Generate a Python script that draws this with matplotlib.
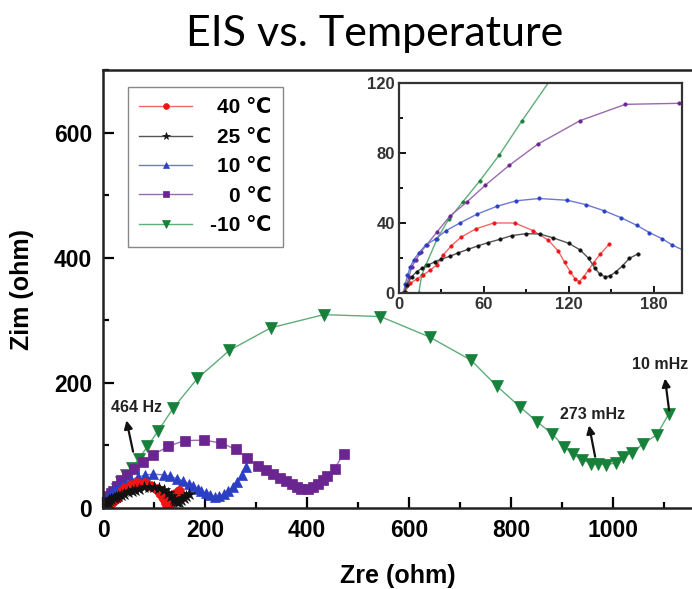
import matplotlib
matplotlib.use("Agg")
import matplotlib.pyplot as plt
from matplotlib.ticker import MultipleLocator

# ---------------- data ----------------
legend_labels = ["40 ℃", "25 ℃", "10 ℃", "0 ℃", "-10 ℃"]

zre_40 = [4, 8, 12.5, 17, 22, 26.6, 31, 37, 44, 54.4, 67, 82, 95, 105.5, 112.5, 117,
          121, 124.5, 127.5, 130.5, 134, 137.5, 142, 148.5]
zim_40 = [0.5, 5.5, 8, 10.3, 13, 16, 21.5, 27, 32, 36.7, 40, 40, 35.5, 30.2, 24, 17.6,
          12.2, 8, 6.5, 9.3, 13.2, 17.3, 22, 27.8]

zre_25 = [4, 5.4, 9, 12.5, 16, 20.7, 25.4, 30, 36, 42, 49, 56, 63, 71.4, 79.6, 89.7,
          99.6, 109, 120, 128, 134, 138.5, 142, 145.6, 149, 153.4, 158, 162.8, 168.7]
zim_25 = [0.7, 4.6, 9.3, 12.2, 14, 16, 17.9, 19.4, 21, 23, 25, 27, 28.8, 30.7, 32.8, 33.9,
          33.7, 31.5, 28.4, 24.6, 19.8, 14.1, 10.7, 9.3, 9.7, 12.2, 15.6, 19.8, 22.3]

zre_10 = [3, 4.5, 6, 8, 10.5, 14, 19, 26, 33, 43, 55, 69, 83, 99, 119, 132, 145, 157,
          168, 177, 186, 193, 202, 210, 220, 228, 237, 246, 254, 262, 272, 281]
zim_10 = [0, 5, 10, 15, 19, 23, 27.5, 31, 35.5, 40, 45, 49.5, 52.7, 54, 53, 50.5, 47, 43,
          38.7, 34.5, 31, 27.5, 24, 20.5, 18, 19, 22, 27, 34, 42, 52.6, 65]

zre_0 = [3, 5, 7, 9, 12, 15.5, 19.5, 27, 36, 48, 61, 78, 98, 128, 160, 198, 231, 261,
         283, 303, 319, 334, 347, 358, 370, 380, 389, 401, 412, 422, 432, 440, 454, 472]
zim_0 = [0, 4, 9, 15, 19, 23.5, 27.5, 35, 44, 52, 61.6, 73, 85, 98.5, 107.8, 108.4, 104,
         93.6, 80, 67, 60.6, 54, 48, 43, 38, 34, 31, 30, 33, 38, 44.6, 51.5, 63, 87]

zre_m10 = [14, 16, 19, 27, 35, 45, 57, 71, 87, 108, 138, 185, 248, 329, 433, 544, 641,
           722, 772, 817, 851, 880, 904, 922, 940, 957, 971, 986, 1005, 1019, 1038,
           1059, 1086, 1109]
zim_m10 = [0, 10, 16, 31, 42, 52, 64, 79, 98.5, 123, 160, 207, 252, 288, 309, 306, 273,
           236, 195, 162, 138, 119, 98, 86, 77, 71, 71, 69, 72, 82, 88, 103, 117, 150]

freq_labels = ["464 Hz", "273 mHz", "10 mHz"]
freq_text_xy = [(66, 160), (959, 150), (1092, 230)]
freq_arrow_head = [(46, 140), (953, 132), (1102, 207)]
freq_arrow_tail = [(59, 90), (965, 82), (1110, 156)]

# ---------------- styling ----------------
FONT = ["Liberation Sans", "DejaVu Sans"]
plt.rcParams["font.family"] = FONT
plt.rcParams["font.weight"] = "bold"

# drawing order: -10, 0, 10, 40, 25 (label index into legend_labels last)
series = [
    (zre_m10, zim_m10, "v", "#17803a", "#5fae7a", 8.5, 4),
    (zre_0, zim_0, "s", "#6b2590", "#9a6aae", 7.5, 3),
    (zre_10, zim_10, "^", "#2b3fc4", "#6c7ad4", 7.5, 2),
    (zre_40, zim_40, "o", "#ee1515", "#f06a6a", 7, 0),
    (zre_25, zim_25, "*", "#111111", "#555555", 9, 1),
]

fig = plt.figure(figsize=(6.92, 5.89), dpi=100)
fig.patch.set_facecolor("white")

ax = fig.add_axes([103 / 692, 1 - 508 / 589, 589 / 692, 438 / 589])
handles = {}
for (x, y, m, mc, lc, ms, li) in series:
    h, = ax.plot(x, y, color=lc, lw=1.0, marker=m, ms=ms, mfc=mc, mec=mc, mew=0.5)
    handles[li] = h

ax.set_xlim(0, 589 / 0.51)
ax.set_ylim(0, 700)
ax.xaxis.set_major_locator(MultipleLocator(200))
ax.xaxis.set_minor_locator(MultipleLocator(100))
ax.yaxis.set_major_locator(MultipleLocator(200))
ax.yaxis.set_minor_locator(MultipleLocator(100))
ax.tick_params(which="both", direction="in", width=1.6, labelsize=16.5, top=False, right=False)
ax.tick_params(which="major", length=8, pad=8)
ax.tick_params(which="minor", length=4.5)
for lab in ax.get_xticklabels() + ax.get_yticklabels():
    lab.set_fontweight("bold")
for s in ["left", "bottom", "top"]:
    ax.spines[s].set_linewidth(1.8)
    ax.spines[s].set_color("#222222")
ax.spines["right"].set_visible(False)

ax.set_xlabel("Zre (ohm)", fontsize=18, fontweight="bold", labelpad=16)
ax.set_ylabel("Zim (ohm)", fontsize=18, fontweight="bold", labelpad=14)

for lab, txy, head, tail in zip(freq_labels, freq_text_xy, freq_arrow_head, freq_arrow_tail):
    ax.text(txy[0], txy[1], lab, fontsize=11.5, fontweight="bold", ha="center",
            va="center", color="#222222")
    ax.annotate("", xy=head, xytext=tail,
                arrowprops=dict(arrowstyle="-|>", color="#111111", lw=1.6,
                                mutation_scale=12, shrinkA=0, shrinkB=0))

leg = ax.legend([handles[i] for i in range(5)], legend_labels,
                loc="upper left", bbox_to_anchor=(25 / 589, 1 - 17 / 438),
                prop=dict(family=FONT, weight="bold", size=15),
                frameon=True, fancybox=False, edgecolor="#888888", framealpha=1,
                markerscale=0.6, handlelength=2.5, handletextpad=0.9,
                labelspacing=0.5, borderpad=0.55, borderaxespad=0)
leg.get_frame().set_linewidth(1.0)

# right-align the legend labels
fig.canvas.draw()
renderer = fig.canvas.get_renderer()
texts = leg.get_texts()
widths = [t.get_window_extent(renderer).width for t in texts]
wmax = max(widths)
for t, w in zip(texts, widths):
    t.set_position((wmax - w, 0))

# ---------------- inset ----------------
axin = fig.add_axes([399 / 692, 1 - 293 / 589, 283 / 692, 210 / 589])
for (x, y, m, mc, lc, ms, li) in series:
    axin.plot(x, y, color=lc, lw=1.0, marker="o", ms=2.6, mfc=mc, mec=mc, mew=0.3)
axin.set_xlim(0, 200)
axin.set_ylim(0, 120)
axin.xaxis.set_major_locator(MultipleLocator(60))
axin.xaxis.set_minor_locator(MultipleLocator(30))
axin.yaxis.set_major_locator(MultipleLocator(40))
axin.yaxis.set_minor_locator(MultipleLocator(20))
axin.tick_params(which="both", direction="in", width=1.3, labelsize=12, pad=3)
axin.tick_params(which="major", length=5)
axin.tick_params(which="minor", length=3)
for lab in axin.get_xticklabels() + axin.get_yticklabels():
    lab.set_fontweight("bold")
    lab.set_color("#333333")
for s in axin.spines.values():
    s.set_linewidth(1.6)
    s.set_color("#333333")

fig.text(375 / 692, 1 - 34 / 589, "EIS vs. Temperature", fontsize=31,
         fontweight="normal", family=["Lato", "DejaVu Sans"], ha="center", va="center")

fig.savefig("out.png", dpi=100, facecolor="white")
